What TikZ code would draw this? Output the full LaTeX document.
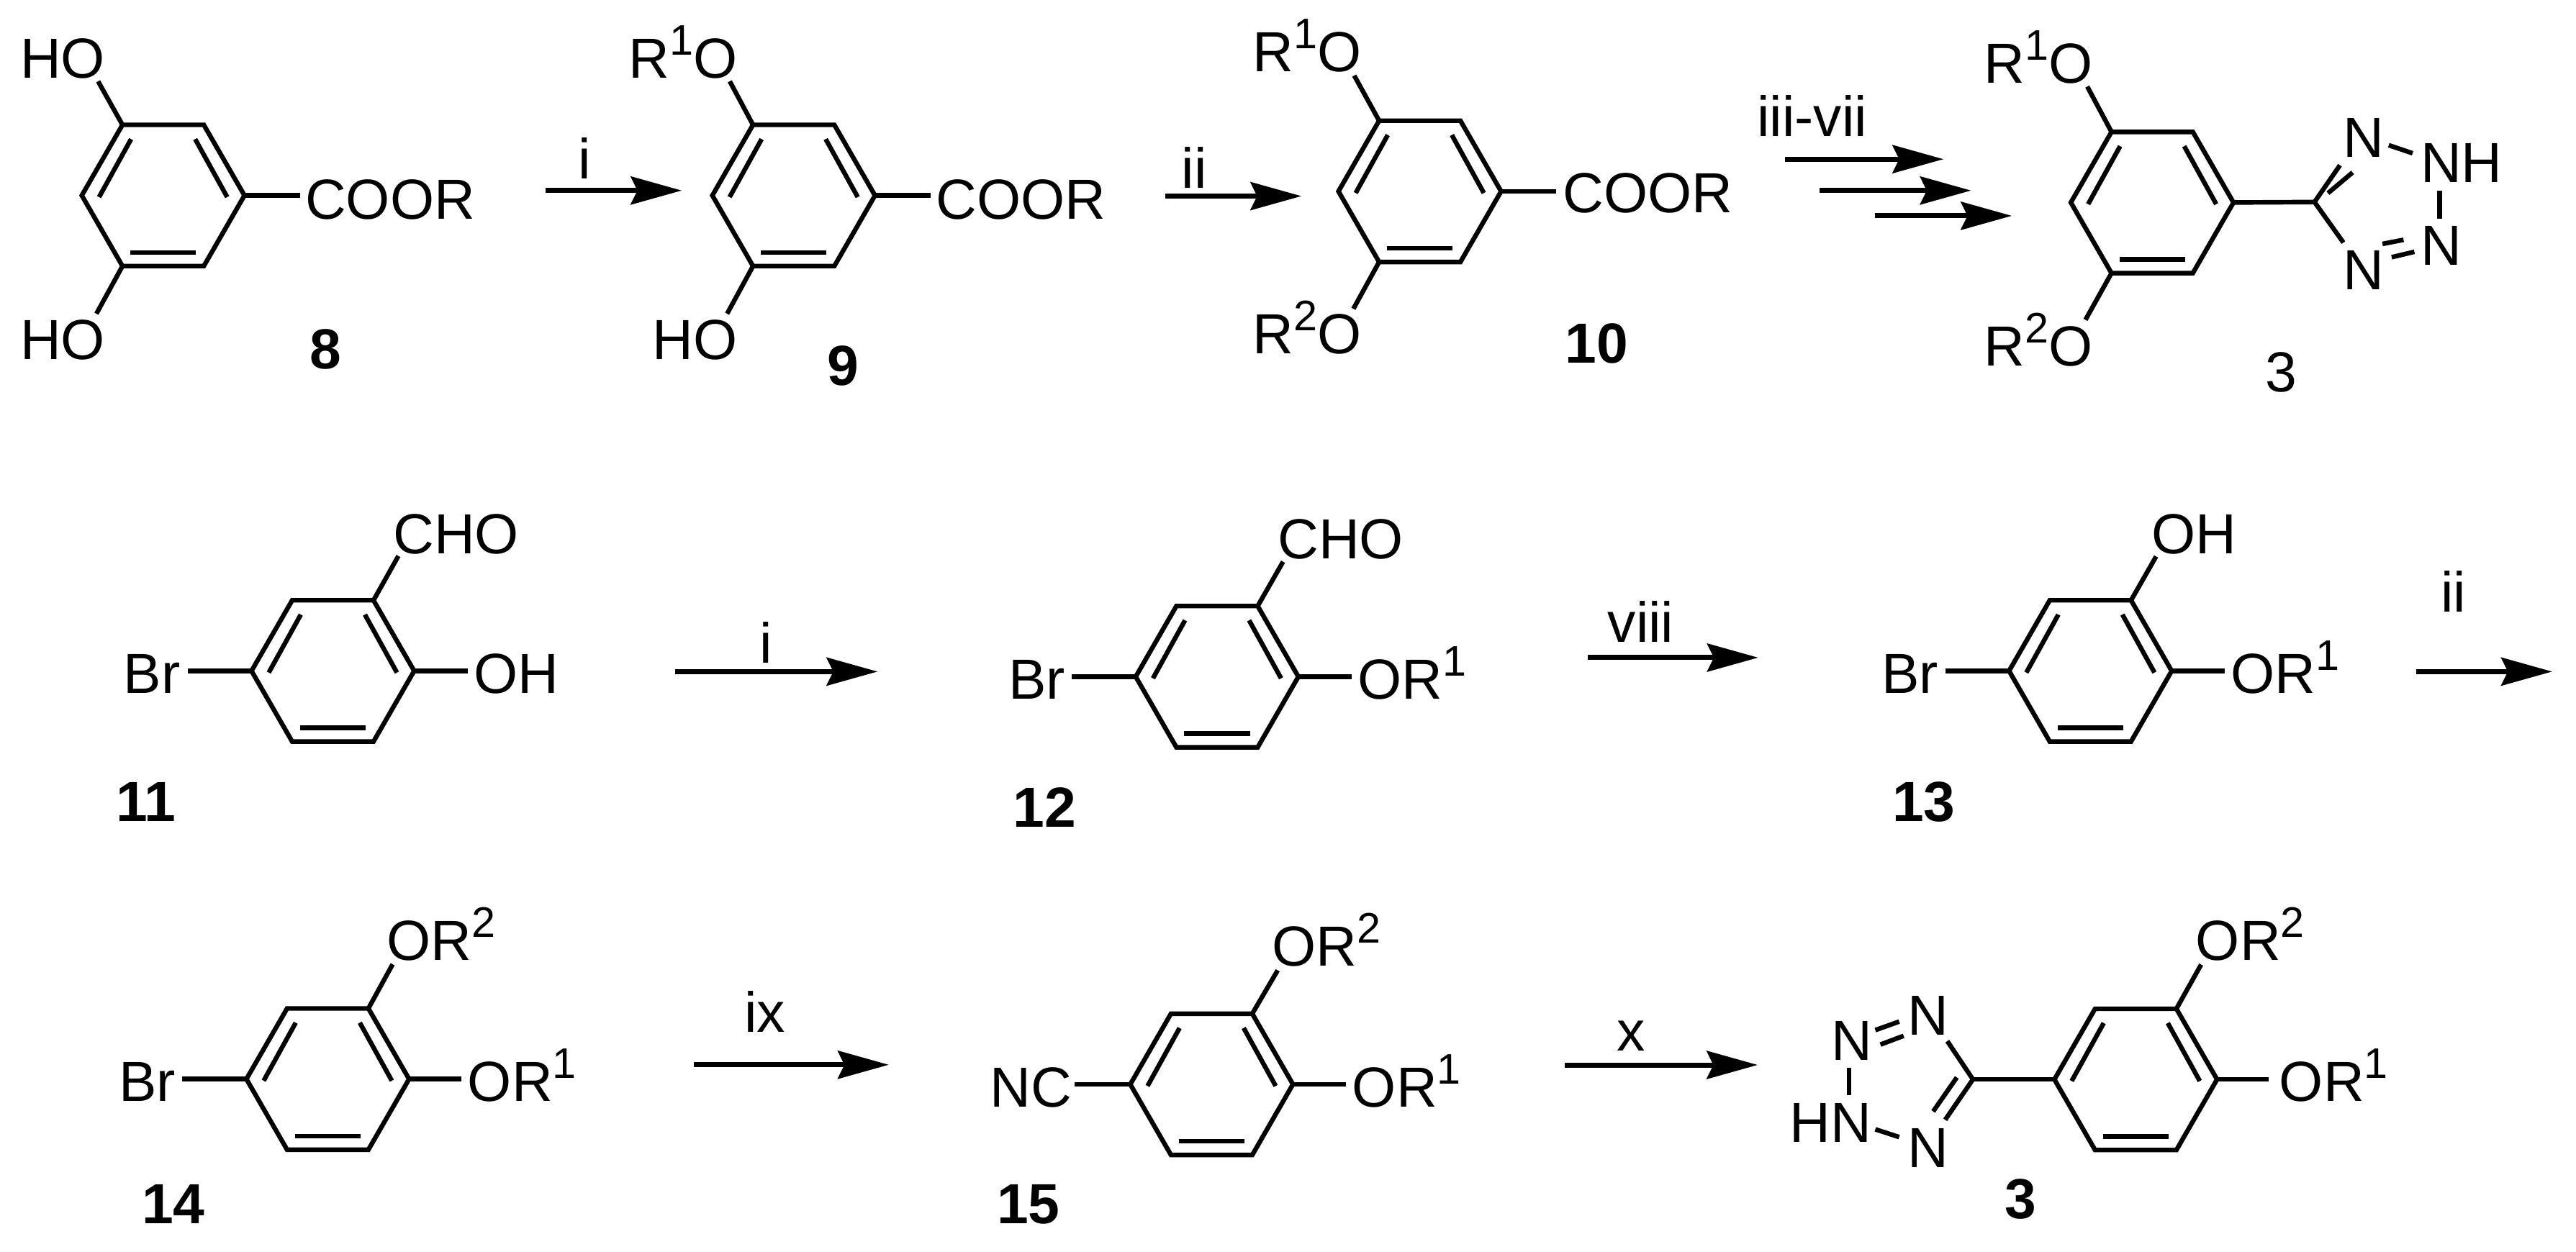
\documentclass[tikz,border=0pt]{standalone}
\usepackage{fontspec}
\setmainfont{Liberation Sans}
\usetikzlibrary{
  calc
  , arrows.meta
}

\tikzset{
  bond/.style={line width=1.6pt},
  rxn/.style={line width=1.75pt, -{Stealth[length=0.62cm, width=0.34cm, inset=0.08cm]}},
  atom/.style={anchor=base west, inner sep=0pt, font=\fontsize{19.6pt}{19.6pt}\selectfont},
  reagent/.style={anchor=base, inner sep=0pt, font=\fontsize{19.6pt}{19.6pt}\selectfont},
  cmpd/.style={anchor=base, inner sep=0pt, font=\fontsize{19.6pt}{19.6pt}\selectfont\bfseries}
}

\newcommand{\supnum}[1]{\raisebox{0.28cm}{\fontsize{14.8pt}{14.8pt}\selectfont #1}}

% name, x, y
\newcommand{\benzene}[3]{
  \coordinate (#1a) at (#2-24.75,#3-43);
  \coordinate (#1b) at (#2+24.75,#3-43);
  \coordinate (#1c) at (#2+49.5,#3);
  \coordinate (#1d) at (#2+24.75,#3+43);
  \coordinate (#1e) at (#2-24.75,#3+43);
  \coordinate (#1f) at (#2-49.5,#3);
  \coordinate (#1p) at (#2-19.5,#3-34.3);
  \coordinate (#1q) at (#2-39,#3+1);
  \coordinate (#1r) at (#2+19.5,#3-34.3);
  \coordinate (#1s) at (#2+39,#3+1);
  \coordinate (#1t) at (#2-20,#3+34.7);
  \coordinate (#1u) at (#2+20,#3+34.7);
  \draw [bond] (#1a) -- (#1b) -- (#1c) -- (#1d) -- (#1e) -- (#1f) -- cycle;
  \draw [bond] (#1p) -- (#1q);
  \draw [bond] (#1r) -- (#1s);
  \draw [bond] (#1t) -- (#1u);
}

\begin{document}
\begin{tikzpicture}[x=0.02cm, y=-0.02cm]
  \useasboundingbox (0,0) rectangle (1568,762);

  % first row
  \benzene{rA}{99.3}{119}
  \node [atom] (hoA) at (12,47.4) {HO};
  \node [atom] (hoB) at (12,219) {HO};
  \node [atom] (coorA) at (185.5,133.4) {COOR};
  \node [cmpd] (lblA) at (198,224.7) {8};
  \coordinate (hoAend) at (59.7,49.5);
  \coordinate (hoBend) at (58.7,191);
  \coordinate (coorAend) at (182.7,119);
  \draw [bond] (rAa) -- (hoAend);
  \draw [bond] (rAe) -- (hoBend);
  \draw [bond] (rAc) -- (coorAend);

  \coordinate (arrAs) at (331.9,116);
  \coordinate (arrAe) at (415,116);
  \draw [rxn] (arrAs) -- (arrAe);
  \node [reagent] (stepA) at (355.7,109) {i};

  \benzene{rB}{483.1}{119}
  \node [atom] (roC) at (382.5,47.4) {R\supnum{1}O};
  \node [atom] (hoC) at (397,219) {HO};
  \node [atom] (coorB) at (569.3,133.4) {COOR};
  \node [cmpd] (lblB) at (513,234.5) {9};
  \coordinate (roCend) at (444.2,49.5);
  \coordinate (hoCend) at (442.6,191);
  \coordinate (coorBend) at (566.5,119);
  \draw [bond] (rBa) -- (roCend);
  \draw [bond] (rBe) -- (hoCend);
  \draw [bond] (rBc) -- (coorBend);

  \coordinate (arrBs) at (709.3,119.4);
  \coordinate (arrBe) at (792.2,119.4);
  \draw [rxn] (arrBs) -- (arrBe);
  \node [reagent] (stepB) at (727,114.4) {ii};

  \benzene{rC}{864.2}{116.5}
  \node [atom] (roD) at (762.3,43.5) {R\supnum{1}O};
  \node [atom] (roE) at (762.3,215.5) {R\supnum{2}O};
  \node [atom] (coorC) at (951,129.5) {COOR};
  \node [cmpd] (lblC) at (972,221) {10};
  \coordinate (roDend) at (824.3,46);
  \coordinate (roEend) at (823.8,188);
  \coordinate (coorCend) at (947,116.5);
  \draw [bond] (rCa) -- (roDend);
  \draw [bond] (rCe) -- (roEend);
  \draw [bond] (rCc) -- (coorCend);

  \coordinate (arrCs) at (1086.4,96.9);
  \coordinate (arrCe) at (1183,96.9);
  \coordinate (arrDs) at (1107.4,116);
  \coordinate (arrDe) at (1199.8,116);
  \coordinate (arrEs) at (1141.1,131.4);
  \coordinate (arrEe) at (1224.6,131.4);
  \draw [rxn] (arrCs) -- (arrCe);
  \draw [rxn] (arrDs) -- (arrDe);
  \draw [rxn] (arrEs) -- (arrEe);
  \node [reagent] (stepC) at (1103,83.2) {iii-vii};

  \benzene{rD}{1310}{123.3}
  \node [atom] (roF) at (1207.5,50.6) {R\supnum{1}O};
  \node [atom] (roG) at (1207.5,222.6) {R\supnum{2}O};
  \node [reagent] (lblD) at (1388.7,238.5) {3};
  \coordinate (roFend) at (1270.5,52.7);
  \coordinate (roGend) at (1269.4,194.7);
  \draw [bond] (rDa) -- (roFend);
  \draw [bond] (rDe) -- (roGend);

  % tetrazole, first row
  \node [atom] (nA) at (1426,95.7) {N};
  \node [atom] (nB) at (1473,111) {NH};
  \node [atom] (nC) at (1473,161.4) {N};
  \node [atom] (nD) at (1426,176.5) {N};
  \coordinate (cA) at (1408.8,123);
  \coordinate (cAa) at (1424.3,100.6);
  \coordinate (cAb) at (1417,117.6);
  \coordinate (cAc) at (1432,105);
  \coordinate (cAd) at (1426.4,147.7);
  \coordinate (nAa) at (1454,88.4);
  \coordinate (nAb) at (1468.5,93.3);
  \coordinate (nBa) at (1485,116);
  \coordinate (nBb) at (1485,133);
  \coordinate (nCa) at (1450.2,148.5);
  \coordinate (nCb) at (1463,146);
  \coordinate (nCc) at (1455.8,156.6);
  \coordinate (nCd) at (1469.6,153.3);
  \draw [bond] (rDc) -- (cA);
  \draw [bond] (cA) -- (cAa);
  \draw [bond] (cAb) -- (cAc);
  \draw [bond] (cA) -- (cAd);
  \draw [bond] (nAa) -- (nAb);
  \draw [bond] (nBa) -- (nBb);
  \draw [bond] (nCa) -- (nCb);
  \draw [bond] (nCc) -- (nCd);

  % second row
  \benzene{rE}{202.6}{408.5}
  \node [atom] (brA) at (75,422.3) {Br};
  \node [atom] (ohA) at (288,422.3) {OH};
  \node [atom] (choA) at (239,336.9) {CHO};
  \node [cmpd] (lblE) at (89,500.2) {11};
  \coordinate (brAend) at (114.2,408.5);
  \coordinate (ohAend) at (284.8,408.5);
  \coordinate (choAend) at (242.5,338.5);
  \draw [bond] (rEf) -- (brAend);
  \draw [bond] (rEc) -- (ohAend);
  \draw [bond] (rEb) -- (choAend);

  \coordinate (arrFs) at (410.9,408.9);
  \coordinate (arrFe) at (534.2,408.9);
  \draw [rxn] (arrFs) -- (arrFe);
  \node [reagent] (stepF) at (466.3,403.8) {i};

  \benzene{rF}{740.8}{412}
  \node [atom] (brB) at (613.5,425.7) {Br};
  \node [atom] (orA) at (826,425.7) {OR\supnum{1}};
  \node [atom] (choB) at (777.5,340) {CHO};
  \node [cmpd] (lblF) at (636,503.5) {12};
  \coordinate (brBend) at (652.4,412);
  \coordinate (orAend) at (822.6,412);
  \coordinate (choBend) at (781,342);
  \draw [bond] (rFf) -- (brBend);
  \draw [bond] (rFc) -- (orAend);
  \draw [bond] (rFb) -- (choBend);

  \coordinate (arrGs) at (966.5,400.4);
  \coordinate (arrGe) at (1070.2,400.4);
  \draw [rxn] (arrGs) -- (arrGe);
  \node [reagent] (stepG) at (998.7,391.1) {viii};

  \benzene{rG}{1272.4}{408.5}
  \node [atom] (brC) at (1145,422.3) {Br};
  \node [atom] (orB) at (1357.5,422.3) {OR\supnum{1}};
  \node [atom] (ohB) at (1309.3,336.9) {OH};
  \node [cmpd] (lblG) at (1171,500.2) {13};
  \coordinate (brCend) at (1184.2,408.5);
  \coordinate (orBend) at (1354,408.5);
  \coordinate (ohBend) at (1312.4,338.8);
  \draw [bond] (rGf) -- (brCend);
  \draw [bond] (rGc) -- (orBend);
  \draw [bond] (rGb) -- (ohBend);

  \coordinate (arrHs) at (1470.6,408.9);
  \coordinate (arrHe) at (1553.5,408.9);
  \draw [rxn] (arrHs) -- (arrHe);
  \node [reagent] (stepH) at (1493.3,372.8) {ii};

  % third row
  \benzene{rH}{199.5}{657}
  \node [atom] (brD) at (72,670.6) {Br};
  \node [atom] (orC) at (284.4,670.6) {OR\supnum{1}};
  \node [atom] (orD) at (235.2,584.7) {OR\supnum{2}};
  \node [cmpd] (lblH) at (105.5,744.8) {14};
  \coordinate (brDend) at (110.8,657);
  \coordinate (orCend) at (281,657);
  \coordinate (orDend) at (239,587.1);
  \draw [bond] (rHf) -- (brDend);
  \draw [bond] (rHc) -- (orCend);
  \draw [bond] (rHb) -- (orDend);

  \coordinate (arrIs) at (422.5,648.3);
  \coordinate (arrIe) at (541,648.3);
  \draw [rxn] (arrIs) -- (arrIe);
  \node [reagent] (stepI) at (465.5,628.6) {ix};

  \benzene{rI}{737.5}{660.2}
  \node [atom] (ncA) at (602.2,674) {NC};
  \node [atom] (orE) at (822.8,674) {OR\supnum{1}};
  \node [atom] (orF) at (774,588.2) {OR\supnum{2}};
  \node [cmpd] (lblI) at (626,744.8) {15};
  \coordinate (ncAend) at (654.2,660.2);
  \coordinate (orEend) at (819.2,660.2);
  \coordinate (orFend) at (777.7,590.8);
  \draw [bond] (rIf) -- (ncAend);
  \draw [bond] (rIc) -- (orEend);
  \draw [bond] (rIb) -- (orFend);

  \coordinate (arrJs) at (952.3,648.4);
  \coordinate (arrJe) at (1069.9,648.4);
  \draw [rxn] (arrJs) -- (arrJe);
  \node [reagent] (stepJ) at (992.8,639.7) {x};

  \benzene{rJ}{1300}{657.2}
  \node [atom] (orG) at (1387.1,670.4) {OR\supnum{1}};
  \node [atom] (orH) at (1336.3,584.7) {OR\supnum{2}};
  \node [cmpd] (lblJ) at (1230,742) {3};
  \coordinate (orGend) at (1380.9,657.2);
  \coordinate (orHend) at (1339.8,587.3);
  \draw [bond] (rJc) -- (orGend);
  \draw [bond] (rJb) -- (orHend);

  % tetrazole, third row
  \node [atom] (nE) at (1161,630.3) {N};
  \node [atom] (nF) at (1114.5,645.4) {N};
  \node [atom] (nG) at (1089,695.4) {HN};
  \node [atom] (nH) at (1161,710.8) {N};
  \coordinate (cB) at (1200.9,657.2);
  \coordinate (cBa) at (1185.3,633.9);
  \coordinate (cBb) at (1184,681.8);
  \coordinate (cBc) at (1191.1,656);
  \coordinate (cBd) at (1176.7,676.7);
  \coordinate (nEa) at (1141.5,627.2);
  \coordinate (nEb) at (1156,622);
  \coordinate (nEc) at (1144.6,636);
  \coordinate (nEd) at (1158.7,630.7);
  \coordinate (nFa) at (1125.4,650);
  \coordinate (nFb) at (1125.4,666.7);
  \coordinate (nGa) at (1141.5,687.6);
  \coordinate (nGb) at (1156,692.3);
  \draw [bond] (rJf) -- (cB);
  \draw [bond] (cB) -- (cBa);
  \draw [bond] (cB) -- (cBb);
  \draw [bond] (cBc) -- (cBd);
  \draw [bond] (nEa) -- (nEb);
  \draw [bond] (nEc) -- (nEd);
  \draw [bond] (nFa) -- (nFb);
  \draw [bond] (nGa) -- (nGb);
\end{tikzpicture}
\end{document}
